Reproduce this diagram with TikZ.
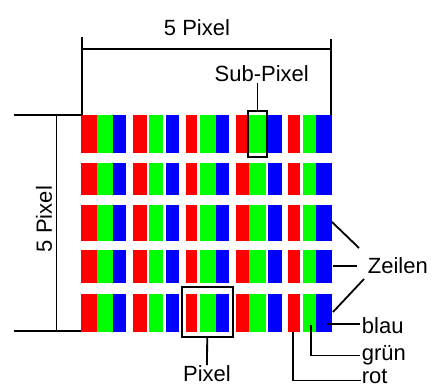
\documentclass[tikz,border=0pt]{standalone}
\usepackage{fontspec}
\setmainfont{Liberation Sans}
\usepackage{tikz}
\usetikzlibrary{calc}

\begin{document}
\begin{tikzpicture}[x=1pt, y=-1pt, line width=1.8pt, font=\fontsize{22}{26}\selectfont,
    frame/.style={draw, black, line width=1.8pt, inner sep=0pt},
    label/.style={inner sep=1pt, anchor=west}]

    \useasboundingbox (0,0) rectangle (436,388);

    % Sub-pixel stripes: rows (top/bottom) and pixels (red, green, blue edges)
    \foreach \ytop/\ybot in {115/153, 163/195, 205/241, 250/283, 294/332} {
        \foreach \xa/\xb/\xc/\xd/\xe/\xf in {81/97/97/113/113/126, 133/147/149/163/166/179,
                186/197/200/216/216/229, 236/249/249/266/268/282, 288/300/303/316/316/332} {
            \fill[red]   (\xa,\ytop) rectangle (\xb,\ybot);
            \fill[green] (\xc,\ytop) rectangle (\xd,\ybot);
            \fill[blue]  (\xe,\ytop) rectangle (\xf,\ybot);
        }
    }

    % Dimension lines
    \coordinate (topL) at (81.7,37);
    \coordinate (topR) at (331,39);
    \coordinate (gridTL) at (81.7,115);
    \coordinate (gridTR) at (331,115);
    \coordinate (dimTL) at (81.7,49.3);
    \coordinate (dimTR) at (331,49.3);
    \coordinate (sideT) at (14,115);
    \coordinate (sideB) at (14,331);
    \coordinate (gridBL) at (81,331);
    \coordinate (dimLT) at (56.5,115);
    \coordinate (dimLB) at (56.5,331);

    \draw (topL) -- (gridTL);
    \draw (topR) -- (gridTR);
    \draw (dimTL) -- (dimTR);
    \draw (sideT) -- (gridTL);
    \draw (sideB) -- (gridBL);
    \draw (dimLT) -- (dimLB);

    \node (widthlabel) at (197,28) {5 Pixel};
    \node[rotate=90] (heightlabel) at (44,219) {5 Pixel};

    % Sub-Pixel and Pixel boxes
    \node[frame, minimum width=18.4pt, minimum height=46.3pt] (subbox) at (257.5,134.2) {};
    \node[inner sep=0pt] (subpx) at (261.7,74) {Sub-Pixel};
    \draw (subbox.north) -- (subbox.north |- subpx.south);

    \node[frame, minimum width=51pt, minimum height=50pt] (pxbox) at (207.2,311.7) {};
    \node[anchor=north, inner sep=0pt] (px) at (207,365) {Pixel};
    \draw (pxbox.south) -- (px.north);

    % Zeilen
    \node[label, inner sep=0pt] (zeilen) at (367,266) {Zeilen};
    \coordinate (zA) at (332,222);
    \coordinate (zA') at (359,248);
    \coordinate (zB) at (333,266);
    \coordinate (zB') at (357,266);
    \coordinate (zC) at (333,312);
    \coordinate (zC') at (364,279);
    \draw (zA) -- (zA');
    \draw (zB) -- (zB');
    \draw (zC) -- (zC');

    % Colour labels
    \node[label] (blau) at (360,325.5) {blau};
    \node[label] (gruen) at (360,355) {grün};
    \node[label, inner sep=0pt] (rot) at (361,376) {rot};
    \coordinate (bsub) at (326.7,324.3);
    \coordinate (gsub) at (311,325);
    \coordinate (rsub) at (293.3,331.7);
    \draw (bsub) -- (blau.west |- bsub);
    \draw (gsub) |- (gruen.west |- 0,355.5);
    \draw (rsub) |- (rot.west |- 0,380.5);

\end{tikzpicture}
\end{document}
